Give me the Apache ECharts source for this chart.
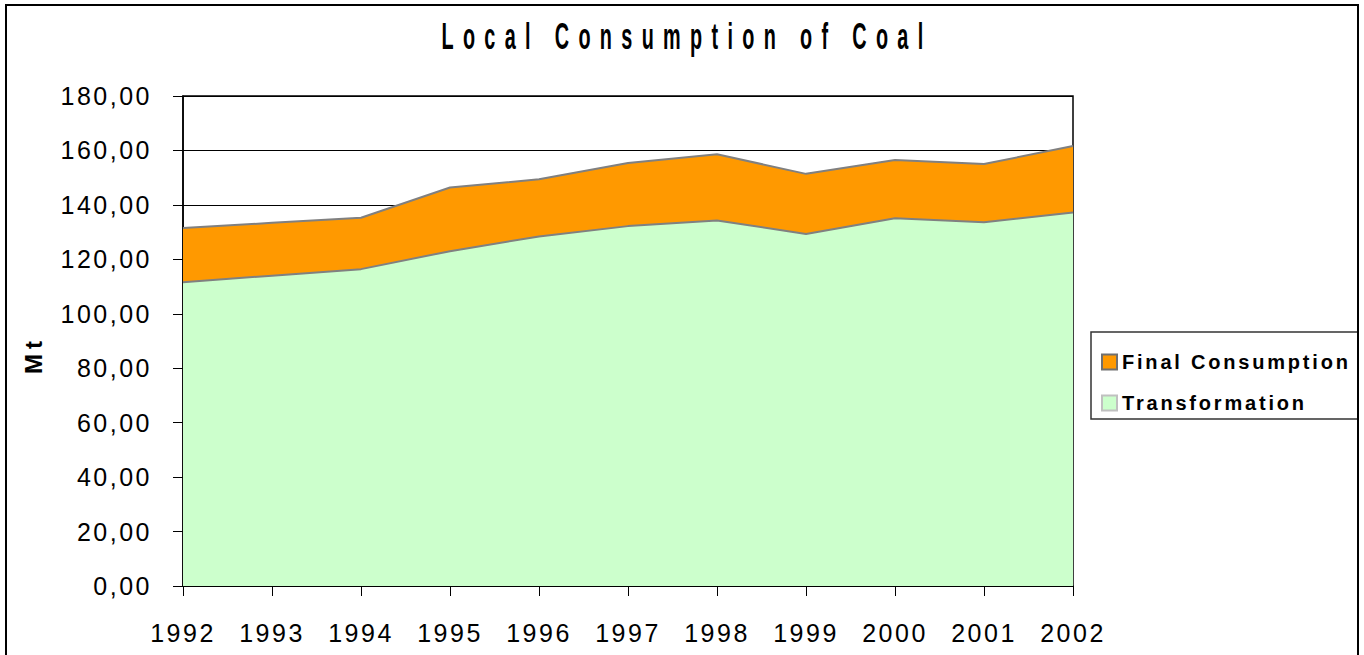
<!DOCTYPE html>
<html>
<head>
<meta charset="utf-8">
<title>Local Consumption of Coal</title>
<script src="https://cdn.jsdelivr.net/npm/echarts@6/dist/echarts.min.js"></script>
<style>
  html, body { margin: 0; padding: 0; background: #fff; }
  #chart { width: 1364px; height: 655px; }
  /* spaced-out lettering like the original, one rule per font size */
  #chart text { letter-spacing: 2.5px; }
  #chart text[style*="36px"] { letter-spacing: 17px; }
  #chart text[style*="20px"] { letter-spacing: 2.8px; }
  #chart text[style*="24px"] { letter-spacing: 5px; }
</style>
</head>
<body>
<div id="chart"></div>
<script>
const years = ["1992", "1993", "1994", "1995", "1996", "1997", "1998", "1999", "2000", "2001", "2002"];
const transformation = [111.6, 114.0, 116.4, 123.0, 128.4, 132.2, 134.3, 129.3, 135.1, 133.6, 137.2];
const finalConsumption = [19.9, 19.4, 18.9, 23.4, 21.0, 23.2, 24.3, 22.1, 21.4, 21.4, 24.4];
const yMin = 0;
const yMax = 180;
const yStep = 20;

const font = "'Liberation Sans', Arial, sans-serif";

let chart = echarts.init(document.getElementById("chart"), null, { renderer: "svg" });

let option = {
  animation: false,
  backgroundColor: "#fff",
  grid: {
    left: 183,
    right: 291,
    top: 96,
    bottom: 69,
    show: true,
    borderColor: "#000",
    borderWidth: 1.5,
    backgroundColor: "transparent"
  },
  graphic: [
    {
      type: "rect",
      shape: { x: 6, y: 5, width: 1352, height: 700 },
      style: { fill: "none", stroke: "#000", lineWidth: 2 },
      silent: true
    },
    {
      type: "rect",
      shape: { x: 1091, y: 332, width: 267, height: 87 },
      style: { fill: "#fff", stroke: "#333", lineWidth: 1.5 },
      silent: true,
      z: -1
    },
    {
      // title, squeezed sideways like the narrow bold face of the original
      type: "text",
      x: 687,
      y: 37,
      scaleX: 0.55,
      style: {
        text: "Local Consumption of Coal",
        x: 0,
        y: 0,
        align: "center",
        verticalAlign: "middle",
        fill: "#000",
        font: "bold 36px " + font
      }
    }
  ],
  legend: {
    orient: "vertical",
    left: 1101,
    top: 352,
    padding: 0,
    itemWidth: 15,
    itemHeight: 15,
    itemGap: 21,
    icon: "rect",
    data: ["Final Consumption", "Transformation"],
    textStyle: {
      color: "#000",
      fontWeight: "bold",
      fontSize: 20,
      fontFamily: font
    }
  },
  xAxis: {
    type: "category",
    boundaryGap: false,
    data: years,
    axisLine: { lineStyle: { color: "#000", width: 1.5 } },
    axisTick: { show: true, length: 10, lineStyle: { color: "#000" } },
    axisLabel: {
      color: "#000",
      fontSize: 25,
      fontFamily: font,
      margin: 34
    }
  },
  yAxis: {
    type: "value",
    min: yMin,
    max: yMax,
    interval: yStep,
    name: "Mt",
    nameLocation: "middle",
    nameRotate: 90,
    nameGap: 138,
    nameTextStyle: {
      color: "#000",
      fontWeight: "bold",
      fontSize: 24,
      fontFamily: font,
      padding: [0, 28, 0, 0]
    },
    axisLine: { show: true, lineStyle: { color: "#000", width: 1.5 } },
    axisTick: { show: true, length: 10, lineStyle: { color: "#000" } },
    splitLine: { lineStyle: { color: "#000", width: 1 } },
    axisLabel: {
      color: "#000",
      fontSize: 25,
      fontFamily: font,
      margin: 31,
      formatter: function (v) {
        return v.toFixed(2).replace(".", ",");
      }
    }
  },
  series: [
    {
      name: "Transformation",
      type: "line",
      stack: "coal",
      data: transformation,
      showSymbol: false,
      lineStyle: { color: "#808080", width: 2 },
      itemStyle: { color: "#CCFFCC", borderColor: "#C0C0C0", borderWidth: 2 },
      areaStyle: { color: "#CCFFCC", opacity: 1 },
      z: 3
    },
    {
      name: "Final Consumption",
      type: "line",
      stack: "coal",
      data: finalConsumption,
      showSymbol: false,
      lineStyle: { color: "#808080", width: 2 },
      itemStyle: { color: "#FF9900", borderColor: "#707070", borderWidth: 2 },
      areaStyle: { color: "#FF9900", opacity: 1 },
      z: 2
    }
  ]
};

chart.setOption(option);
</script>
</body>
</html>
